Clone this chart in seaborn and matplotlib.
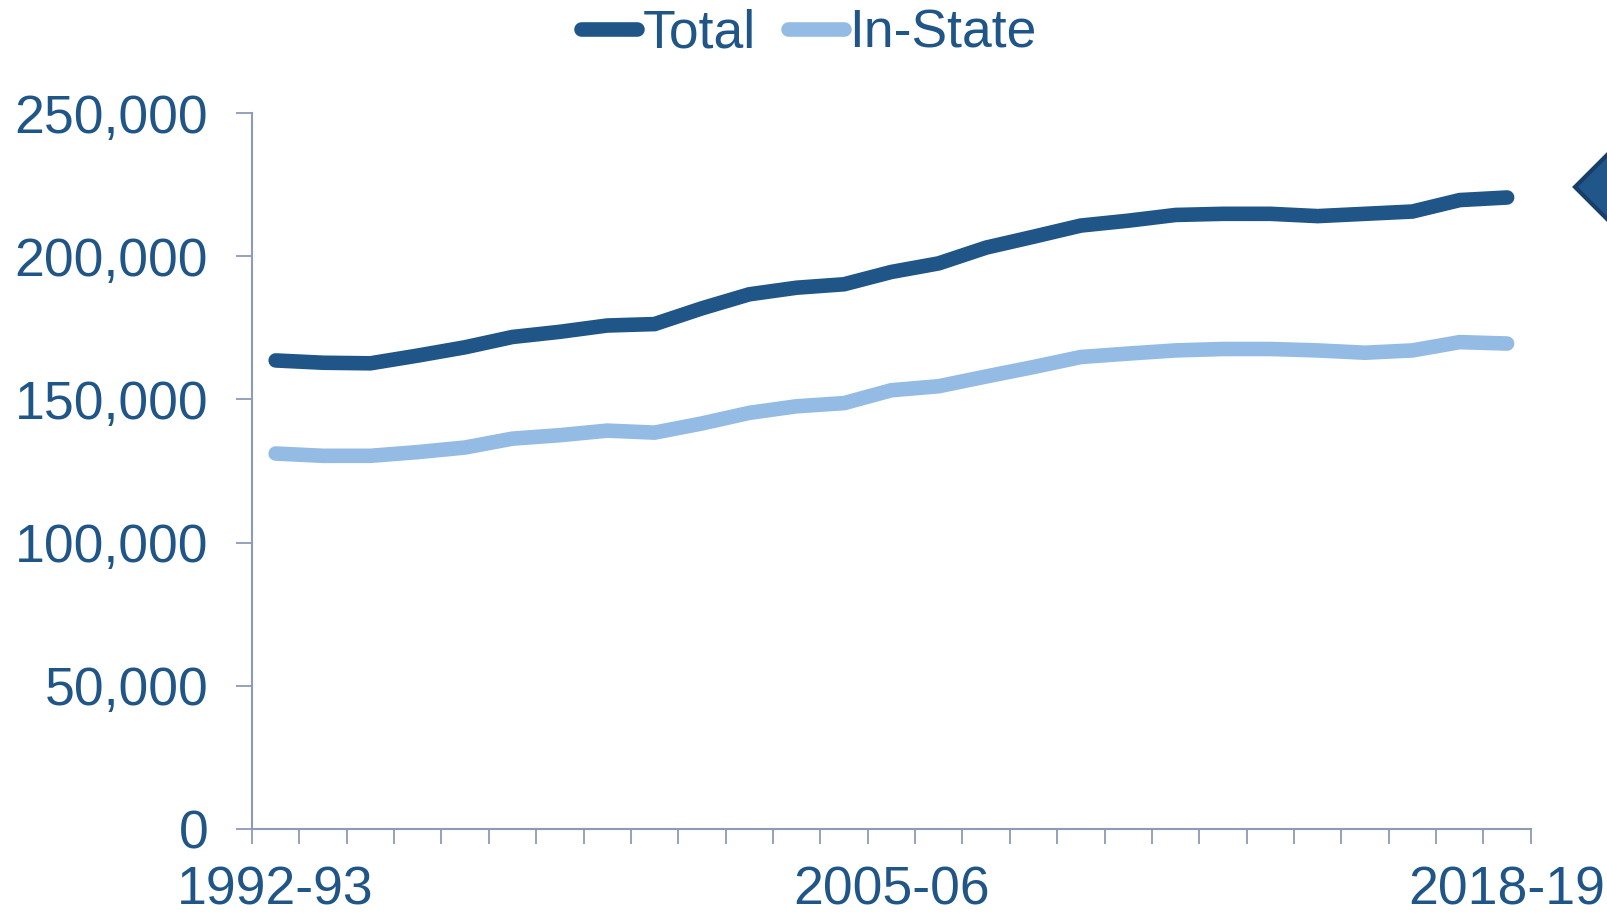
import matplotlib
matplotlib.use("Agg")
import matplotlib.pyplot as plt
from matplotlib.patches import Polygon
from matplotlib.ticker import FuncFormatter, FixedLocator
import pandas as pd
import seaborn as sns

YEARS = [f"{y}-{str(y + 1)[-2:]}" for y in range(1992, 2019)]
TOTAL = [163.6, 162.8, 162.6, 165.3, 168.2, 171.8, 173.6, 175.8, 176.3, 181.8,
         186.7, 189.0, 190.2, 194.5, 197.5, 203.0, 206.8, 210.7, 212.4, 214.4,
         214.8, 214.8, 214.0, 214.8, 215.6, 219.6, 220.5]
IN_STATE = [131.1, 130.3, 130.3, 131.6, 133.2, 136.3, 137.5, 139.1, 138.4, 141.6,
            145.3, 147.6, 148.7, 153.2, 154.6, 158.0, 161.3, 164.8, 166.0, 167.1,
            167.6, 167.6, 167.1, 166.3, 167.1, 170.0, 169.5]
SHOWN_LABELS = ["1992-93", "2005-06", "2018-19"]

DARK = "#1F5587"
LIGHT = "#93BBE4"
AXIS = "#8E9BB6"
TEXT = "#1F5587"

df = pd.DataFrame({
    "idx": list(range(len(YEARS))) * 2,
    "value": [v * 1000 for v in TOTAL] + [v * 1000 for v in IN_STATE],
    "series": ["Total"] * len(YEARS) + ["In-State"] * len(YEARS),
})

sns.set_theme(style="white")
plt.rcParams["font.family"] = ["Liberation Sans", "DejaVu Sans"]

fig = plt.figure(figsize=(16.08, 9.15), dpi=100)
ax = fig.add_axes([0.1567, 0.094, 0.7953, 0.7825])

sns.lineplot(data=df, x="idx", y="value", hue="series",
             palette={"Total": DARK, "In-State": LIGHT},
             linewidth=10.5, ax=ax, legend=False,
             solid_capstyle="round", solid_joinstyle="miter")

n = len(YEARS)
ax.set_xlim(-0.5, n - 0.5)
ax.set_ylim(0, 250000)
ax.set_yticks(range(0, 250001, 50000))
ax.yaxis.set_major_formatter(FuncFormatter(lambda v, p: f"{int(v):,}"))

major = [YEARS.index(s) for s in SHOWN_LABELS]
ax.xaxis.set_major_locator(FixedLocator(major))
ax.set_xticklabels(SHOWN_LABELS)
ax.xaxis.set_minor_locator(FixedLocator([i - 0.5 for i in range(n + 1)]))
ax.tick_params(axis="x", which="major", bottom=True, length=0, pad=26,
               labelsize=38.5, labelcolor=TEXT)
ax.tick_params(axis="x", which="minor", bottom=True, length=11, width=1.3,
               color=AXIS, direction="out")
ax.tick_params(axis="y", length=11.5, width=1.3, color=AXIS, direction="out",
               pad=20, labelsize=38.5, labelcolor=TEXT, left=True)
ax.set_xlabel("")
ax.set_ylabel("")

for s in ["top", "right"]:
    ax.spines[s].set_visible(False)
for s in ["left", "bottom"]:
    ax.spines[s].set_color(AXIS)
    ax.spines[s].set_linewidth(1.5)

handles = [plt.Line2D([], [], color=DARK, lw=10.5, solid_capstyle="round"),
           plt.Line2D([], [], color=LIGHT, lw=10.5, solid_capstyle="round")]
fig.legend(handles, ["Total", "In-State"], loc="center", bbox_to_anchor=(0.503, 0.963),
           ncol=2, frameon=False, fontsize=38.5, handlelength=1.05, handletextpad=0.1,
           columnspacing=0.6, labelcolor=TEXT)

# decorative diamond cut off at the right edge
diamond = Polygon([(1575 / 1608, 1 - 187 / 915), (1614 / 1608, 1 - 148 / 915),
                   (1653 / 1608, 1 - 187 / 915), (1614 / 1608, 1 - 226 / 915)],
                  closed=True, transform=fig.transFigure, facecolor="#21568A",
                  edgecolor="#173E68", linewidth=3, clip_on=False)
fig.patches.append(diamond)

fig.savefig("out.png", dpi=100)
